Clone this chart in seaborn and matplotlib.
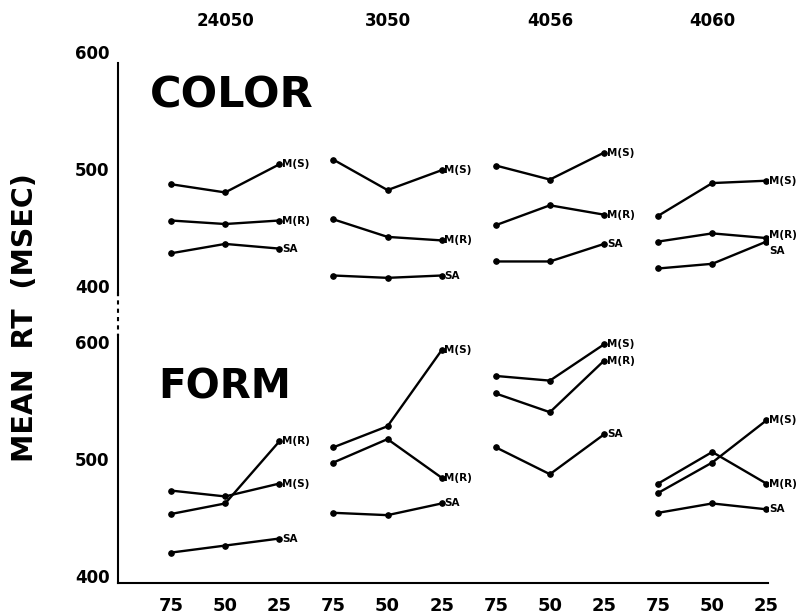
import matplotlib
matplotlib.use('Agg')
import matplotlib.pyplot as plt
from matplotlib.lines import Line2D
import numpy as np
import pandas as pd
import seaborn as sns

# group headers, probability levels and the three response types
groups = ['24050', '3050', '4056', '4060']
levels = ['75', '50', '25']
series = ['M(S)', 'M(R)', 'SA']

# mean RT (msec), 4 groups x 3 levels
color_ms = [487, 480, 504, 508, 482, 499, 503, 491, 514, 460, 488, 490]
color_mr = [456, 453, 456, 457, 442, 439, 452, 469, 461, 438, 445, 441]
color_sa = [428, 436, 432, 409, 407, 409, 421, 421, 436, 415, 419, 438]

form_ms = [473, 468, 479, 510, 528, 593, 571, 567, 598, 471, 497, 533]
form_mr = [453, 462, 515, 497, 517, 484, 556, 540, 584, 479, 506, 479]
form_sa = [420, 426, 432, 454, 452, 462, 510, 487, 521, 454, 462, 457]

# vertical nudges (points) for end labels that would collide
label_nudge = {('color', '4060', 'M(R)'): 2, ('color', '4060', 'SA'): -7}


def make_frame(ms, mr, sa):
    rows = []
    for name, vals in zip(series, [ms, mr, sa]):
        for i, v in enumerate(vals):
            g, l = divmod(i, 3)
            rows.append({'series': name, 'group': groups[g], 'level': levels[l],
                         'pos': i, 'rt': v, 'unit': f'{name}-{groups[g]}'})
    return pd.DataFrame(rows)


sns.set_style('white')
plt.rcParams['font.family'] = ['DejaVu Sans']
plt.rcParams['font.weight'] = 'bold'
for k in ['text.color', 'axes.labelcolor', 'xtick.color', 'ytick.color', 'axes.edgecolor']:
    plt.rcParams[k] = 'black'

fig = plt.figure(figsize=(8.07, 6.14), dpi=100)
W, H = 807, 614
left, right = 118, 768
ax_top = fig.add_axes([left / W, 1 - 295.4 / H, (right - left) / W, 246.9 / H])
ax_bot = fig.add_axes([left / W, 1 - 583 / H, (right - left) / W, 248 / H])

panels = [(ax_top, 'color', make_frame(color_ms, color_mr, color_sa), (392, 603)),
          (ax_bot, 'form', make_frame(form_ms, form_mr, form_sa), (394, 606))]

for ax, key, df, ylim in panels:
    sns.lineplot(data=df, x='pos', y='rt', units='unit', estimator=None,
                 color='black', lw=1.7, marker='o', markersize=4,
                 markeredgecolor='black', ax=ax, legend=False)
    # labels at the right end of each line
    ends = df[df['level'] == levels[-1]]
    for _, r in ends.iterrows():
        dy = label_nudge.get((key, r['group'], r['series']), 0)
        ax.annotate(r['series'], (r['pos'], r['rt']), xytext=(2, dy),
                    textcoords='offset points', va='center', ha='left',
                    fontsize=7.5, annotation_clip=False)
    ax.set_xlim(-0.98, 11.03)
    ax.set_ylim(*ylim)
    ax.set_yticks([400, 500, 600])
    ax.tick_params(axis='y', length=0, labelsize=12, pad=6)
    ax.set_xlabel('')
    ax.set_ylabel('')
    for s in ['top', 'right']:
        ax.spines[s].set_visible(False)
    ax.spines['left'].set_linewidth(1.5)
    ax.spines['bottom'].set_linewidth(1.5)
    ax.patch.set_alpha(0)

ax_top.spines['left'].set_bounds(392, 591)
ax_top.spines['bottom'].set_visible(False)
ax_top.xaxis.tick_top()
ax_top.set_xticks([1, 4, 7, 10], labels=groups)
ax_top.tick_params(axis='x', length=0, labelsize=12, pad=13)

ax_bot.set_xticks(range(12), labels=levels * 4)
ax_bot.tick_params(axis='x', length=0, labelsize=13, pad=10)

ax_top.text(0.049, 0.81, 'COLOR', transform=ax_top.transAxes, fontsize=31,
            va='center', ha='left')
ax_bot.text(0.0615, 0.79, 'FORM', transform=ax_bot.transAxes, fontsize=29,
            va='center', ha='left')

fig.text(25 / W, 1 - 318 / H, 'MEAN  RT  (MSEC)', rotation=90, fontsize=20.5,
         va='center', ha='center')

# broken axis between the two panels
fig.add_artist(Line2D([left / W, left / W], [1 - 292 / H, 1 - 336 / H],
                      transform=fig.transFigure, color='black', lw=1.5,
                      ls=(0, (2, 2))))

fig.savefig('out.png', dpi=100)
